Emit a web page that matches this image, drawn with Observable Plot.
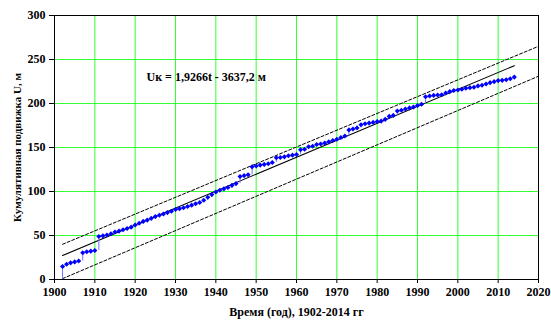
<!DOCTYPE html>
<html>
<head>
<meta charset="utf-8">
<script src="https://cdn.jsdelivr.net/npm/d3@7"></script>
<script src="https://cdn.jsdelivr.net/npm/@observablehq/plot@0.6"></script>
<style>
  html, body { margin: 0; padding: 0; background: #ffffff; }
  #chart svg g[aria-label="y-axis label"] text { font-size: 11px; }
</style>
</head>
<body>
<div id="chart"></div>
<script>
const years = [
  1902,1903,1904,1905,1906,1907,1908,1909,1910,1911,
  1912,1913,1914,1915,1916,1917,1918,1919,1920,1921,
  1922,1923,1924,1925,1926,1927,1928,1929,1930,1931,
  1932,1933,1934,1935,1936,1937,1938,1939,1940,1941,
  1942,1943,1944,1945,1946,1947,1948,1949,1950,1951,
  1952,1953,1954,1955,1956,1957,1958,1959,1960,1961,
  1962,1963,1964,1965,1966,1967,1968,1969,1970,1971,
  1972,1973,1974,1975,1976,1977,1978,1979,1980,1981,
  1982,1983,1984,1985,1986,1987,1988,1989,1990,1991,
  1992,1993,1994,1995,1996,1997,1998,1999,2000,2001,
  2002,2003,2004,2005,2006,2007,2008,2009,2010,2011,
  2012,2013,2014
];
const uValues = [
  14.8,17.4,18.9,20.0,21.0,30.4,31.5,32.2,33.0,48.9,
  49.6,50.5,52.0,54.0,55.0,56.5,58.0,59.5,62.0,64.0,
  66.0,67.5,69.5,71.5,73.0,74.5,76.0,77.5,79.5,80.5,
  81.5,83.0,84.5,86.0,87.5,90.0,93.5,96.5,99.5,101.5,
  103.0,104.5,107.0,109.0,117.0,118.0,119.0,128.0,129.0,130.0,
  130.8,131.5,133.0,138.3,138.7,139.4,140.6,141.3,142.0,147.4,
  148.0,150.8,151.5,153.4,154.0,155.0,156.4,158.0,159.4,161.3,
  163.0,170.0,171.0,172.3,175.8,177.0,177.7,178.5,179.6,180.0,
  182.0,185.4,186.5,191.5,192.3,193.8,195.0,196.0,197.7,199.2,
  207.7,208.5,209.2,209.6,210.0,212.0,213.5,214.7,215.4,216.2,
  217.3,218.0,218.4,220.0,220.7,222.2,223.7,224.8,226.0,226.3,
  227.0,228.2,230.0
];
// regression from the chart's equation: Uk = 1.9266 t - 3637.2
const fitSlope = 1.9266;
const fitIntercept = -3637.2;
const fitYears = [1902, 2014];
// dashed confidence bounds (endpoints)
const upperYears = [1902, 2020];
const upperValues = [40, 265];
const lowerYears = [1902, 2020];
const lowerValues = [1, 231];

const xTicks = [1900,1910,1920,1930,1940,1950,1960,1970,1980,1990,2000,2010,2020];
const yTicks = [0,50,100,150,200,250,300];
const xGrid = [1910,1920,1930,1940,1950,1960,1970,1980,1990,2000,2010];
const yGrid = [50,100,150,200,250];
const equationText = "Uк = 1,9266t - 3637,2 м";
const xLabel = "Время (год), 1902-2014 гг";
const yLabel = "Кумулятивная подвижка U, м";

const rows = years.map((year, i) => ({year, u: uValues[i], prev: i === 0 ? 0 : uValues[i - 1]}));
const fit = fitYears.map(t => ({year: t, u: fitSlope * t + fitIntercept}));
const upper = upperYears.map((t, i) => ({year: t, u: upperValues[i]}));
const lower = lowerYears.map((t, i) => ({year: t, u: lowerValues[i]}));

const chart = Plot.plot({
  width: 551,
  height: 323,
  marginLeft: 54,
  marginRight: 13,
  marginTop: 15,
  marginBottom: 44,
  x: {domain: [1900, 2020]},
  y: {domain: [0, 300]},
  style: {
    fontFamily: "'Liberation Serif', 'Times New Roman', serif",
    fontSize: "12px",
    fontWeight: "bold",
    background: "#ffffff",
    color: "#000000"
  },
  marks: [
    Plot.gridX(xGrid, {stroke: "#33ff33", strokeOpacity: 1, strokeWidth: 1}),
    Plot.gridY(yGrid, {stroke: "#33ff33", strokeOpacity: 1, strokeWidth: 1}),
    Plot.axisX({ticks: xTicks, tickFormat: "d", tickSize: 4, tickPadding: 4,
      label: xLabel, labelAnchor: "center", labelOffset: 36, labelArrow: false}),
    Plot.axisY({ticks: yTicks, tickFormat: "d", tickSize: 5, tickPadding: 4,
      label: yLabel, labelAnchor: "center", labelOffset: 41, labelArrow: false}),
    Plot.line(upper, {x: "year", y: "u", stroke: "#000", strokeWidth: 1, strokeDasharray: "3,2"}),
    Plot.line(lower, {x: "year", y: "u", stroke: "#000", strokeWidth: 1, strokeDasharray: "3,2"}),
    Plot.line(fit, {x: "year", y: "u", stroke: "#000", strokeWidth: 1.1}),
    Plot.ruleX(rows, {x: "year", y1: "prev", y2: "u", stroke: "#7070ff", strokeWidth: 1}),
    Plot.dot(rows, {x: "year", y: "u", symbol: "diamond2", r: 2.3, fill: "#0000ff", stroke: "none"}),
    Plot.text([equationText], {x: 1922.8, y: 230, text: d => d, textAnchor: "start",
      fontSize: 12, fontWeight: "bold", fill: "#000"}),
    Plot.frame({stroke: "#000", strokeWidth: 1})
  ]
});
document.getElementById("chart").appendChild(chart);
</script>
</body>
</html>
